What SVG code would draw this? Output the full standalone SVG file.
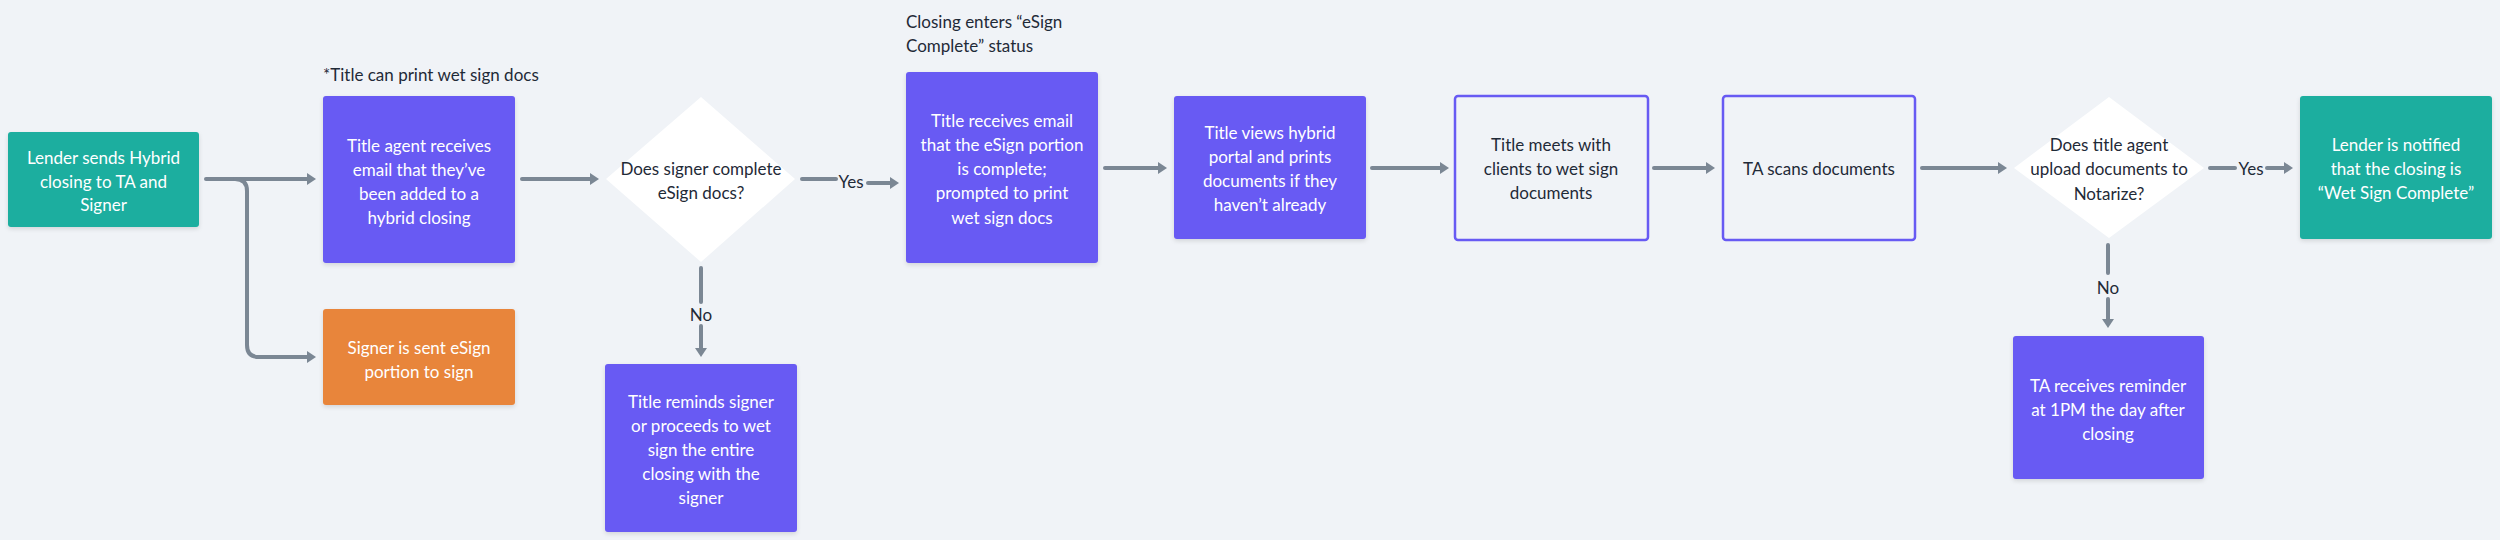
<svg xmlns="http://www.w3.org/2000/svg" width="2500" height="540" viewBox="0 0 2500 540">
<defs>
<style>
.bg{fill:#F0F3F7}
.teal{fill:#1BAE9F}
.purple{fill:#675AF3}
.orange{fill:#E8853A}
.outline{fill:#F0F3F7;stroke:#675AF3;stroke-width:2.5}
.dia{fill:#FFFFFF}
.wt{font-family:Lato,"Liberation Sans",sans-serif;font-size:17px;fill:#FFFFFF;text-anchor:middle;dominant-baseline:central}
.dk{font-family:Lato,"Liberation Sans",sans-serif;font-size:17px;fill:#1F2A37;text-anchor:middle;dominant-baseline:central}
.note{font-family:Lato,"Liberation Sans",sans-serif;font-size:17px;fill:#1F2A37;text-anchor:start;dominant-baseline:central}
.c{fill:none;stroke:#7B8794;stroke-width:4;stroke-linecap:round;stroke-linejoin:round}
.ca{fill:none;stroke:#7B8794;stroke-width:4;stroke-linecap:round;stroke-linejoin:round;marker-end:url(#ah)}
</style>
<marker id="ah" viewBox="0 0 9 12" refX="0" refY="6" markerWidth="9" markerHeight="12" markerUnits="userSpaceOnUse" orient="auto">
<path d="M0,0 L9,6 L0,12 Z" fill="#7B8794"/>
</marker>
<filter id="sh" x="-10%" y="-10%" width="120%" height="130%">
<feDropShadow dx="0" dy="2" stdDeviation="2" flood-color="#000000" flood-opacity="0.12"/>
</filter>
</defs>
<rect class="bg" x="0" y="0" width="2500" height="540"/>

<g id="connectors">
<path class="ca" d="M206,179 H307"/>
<path class="ca" d="M235,179 Q247,179 247,191 V345 Q247,357 259,357 H307"/>
<path class="ca" d="M522,179 H590"/>
<path class="c" d="M802,179 H836"/>
<text class="dk" x="851" y="181">Yes</text>
<path class="ca" d="M868,183 H890"/>
<path class="c" d="M701,268 V302"/>
<text class="dk" x="701" y="314">No</text>
<path class="ca" d="M701,326 V348"/>
<path class="ca" d="M1105,168 H1158"/>
<path class="ca" d="M1372,168 H1440"/>
<path class="ca" d="M1654,168 H1706"/>
<path class="ca" d="M1922,168 H1998"/>
<path class="c" d="M2210,168 H2235"/>
<text class="dk" x="2251" y="168">Yes</text>
<path class="ca" d="M2267,168 H2284"/>
<path class="c" d="M2108,245 V273"/>
<text class="dk" x="2108" y="287">No</text>
<path class="ca" d="M2108,299 V319"/>
</g>

<g id="lender-sends">
<rect class="teal" x="8" y="132" width="191" height="95" rx="3" filter="url(#sh)"/>
<text class="wt" x="103.5" y="157">Lender sends Hybrid</text>
<text class="wt" x="103.5" y="181">closing to TA and</text>
<text class="wt" x="103.5" y="204">Signer</text>
</g>

<g id="note-title-print">
<text class="note" x="323" y="74">*Title can print wet sign docs</text>
</g>

<g id="title-agent-receives">
<rect class="purple" x="323" y="96" width="192" height="167" rx="3" filter="url(#sh)"/>
<text class="wt" x="419" y="145">Title agent receives</text>
<text class="wt" x="419" y="169">email that they’ve</text>
<text class="wt" x="419" y="193">been added to a</text>
<text class="wt" x="419" y="217">hybrid closing</text>
</g>

<g id="signer-sent">
<rect class="orange" x="323" y="309" width="192" height="96" rx="3" filter="url(#sh)"/>
<text class="wt" x="419" y="347">Signer is sent eSign</text>
<text class="wt" x="419" y="371">portion to sign</text>
</g>

<g id="decision-esign">
<polygon class="dia" points="701,97 795,179 701,262 606,179"/>
<text class="dk" x="701" y="168">Does signer complete</text>
<text class="dk" x="701" y="192">eSign docs?</text>
</g>

<g id="title-reminds">
<rect class="purple" x="605" y="364" width="192" height="168" rx="3" filter="url(#sh)"/>
<text class="wt" x="701" y="401">Title reminds signer</text>
<text class="wt" x="701" y="425">or proceeds to wet</text>
<text class="wt" x="701" y="449">sign the entire</text>
<text class="wt" x="701" y="473">closing with the</text>
<text class="wt" x="701" y="497">signer</text>
</g>

<g id="note-esign-complete">
<text class="note" x="906" y="21">Closing enters “eSign</text>
<text class="note" x="906" y="45">Complete” status</text>
</g>

<g id="title-receives-email">
<rect class="purple" x="906" y="72" width="192" height="191" rx="3" filter="url(#sh)"/>
<text class="wt" x="1002" y="120">Title receives email</text>
<text class="wt" x="1002" y="144">that the eSign portion</text>
<text class="wt" x="1002" y="168">is complete;</text>
<text class="wt" x="1002" y="192">prompted to print</text>
<text class="wt" x="1002" y="217">wet sign docs</text>
</g>

<g id="title-views-portal">
<rect class="purple" x="1174" y="96" width="192" height="143" rx="3" filter="url(#sh)"/>
<text class="wt" x="1270" y="132">Title views hybrid</text>
<text class="wt" x="1270" y="156">portal and prints</text>
<text class="wt" x="1270" y="180">documents if they</text>
<text class="wt" x="1270" y="204">haven’t already</text>
</g>

<g id="title-meets">
<rect class="outline" x="1455" y="96" width="193" height="144" rx="3"/>
<text class="dk" x="1551" y="144">Title meets with</text>
<text class="dk" x="1551" y="168">clients to wet sign</text>
<text class="dk" x="1551" y="192">documents</text>
</g>

<g id="ta-scans">
<rect class="outline" x="1723" y="96" width="192" height="144" rx="3"/>
<text class="dk" x="1819" y="168">TA scans documents</text>
</g>

<g id="decision-upload">
<polygon class="dia" points="2109,97 2204,168 2109,238 2014,168"/>
<text class="dk" x="2109" y="144">Does title agent</text>
<text class="dk" x="2109" y="168">upload documents to</text>
<text class="dk" x="2109" y="193">Notarize?</text>
</g>

<g id="lender-notified">
<rect class="teal" x="2300" y="96" width="192" height="143" rx="3" filter="url(#sh)"/>
<text class="wt" x="2396" y="144">Lender is notified</text>
<text class="wt" x="2396" y="168">that the closing is</text>
<text class="wt" x="2396" y="192">“Wet Sign Complete”</text>
</g>

<g id="ta-reminder">
<rect class="purple" x="2013" y="336" width="191" height="143" rx="3" filter="url(#sh)"/>
<text class="wt" x="2108" y="385">TA receives reminder</text>
<text class="wt" x="2108" y="409">at 1PM the day after</text>
<text class="wt" x="2108" y="433">closing</text>
</g>
</svg>
